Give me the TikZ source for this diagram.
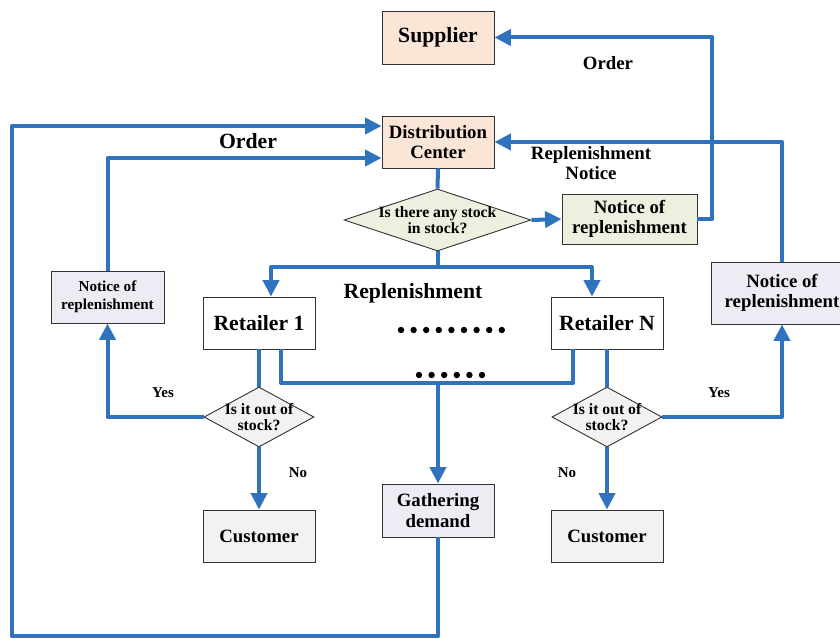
\documentclass[tikz,border=0pt]{standalone}
\usepackage{fontspec}
\setmainfont{Liberation Serif}
\usetikzlibrary{shapes.geometric,arrows.meta}
\definecolor{flowblue}{RGB}{47,114,190}
\definecolor{peach}{RGB}{251,229,214}
\definecolor{palegreen}{RGB}{235,241,222}
\definecolor{lav}{RGB}{237,235,243}
\definecolor{pgray}{RGB}{242,242,242}
\definecolor{edge}{RGB}{50,50,50}
\tikzset{
  box/.style={draw=edge,line width=0.9pt,rectangle,inner sep=0pt,align=center,font=\bfseries},
  dia/.style={draw=edge,line width=0.9pt,diamond,inner sep=0pt},
  big/.style={font=\fontsize{21.7}{24}\selectfont\bfseries},
  mid/.style={font=\fontsize{18.8}{20.5}\selectfont\bfseries},
  sml/.style={font=\fontsize{15.7}{16.5}\selectfont\bfseries},
  lbl/.style={inner sep=0pt,align=center},
  conn/.style={draw=flowblue,line width=4pt,line join=round},
  flow/.style={conn,-{Triangle[length=16.5pt,width=16pt]}},
  dotmark/.style={fill=black,draw=none}
}
\begin{document}
\begin{tikzpicture}[x=1pt,y=-1pt]
\useasboundingbox (0,0) rectangle (840,639);
\clip (0,0) rectangle (840,639);
% nodes
\node[box,big,fill=peach,minimum width=112pt,minimum height=53pt] (sup) at (438,37.5) {Supplier};
\node[box,mid,fill=peach,minimum width=112pt,minimum height=52pt] (dc) at (438,142) {Distribution\\Center};
\node[dia,fill=palegreen,minimum width=187pt,minimum height=62pt] (d1) at (437.5,220) {};
\node[lbl,sml,font=\fontsize{15.7}{16}\selectfont\bfseries] at (d1.center) {Is there any stock\\in stock?};
\node[box,mid,fill=palegreen,minimum width=135pt,minimum height=50pt] (n1) at (629.5,219) {Notice of\\replenishment};
\node[box,big,fill=white,minimum width=112pt,minimum height=52pt] (r1) at (259,323) {Retailer 1};
\node[box,big,fill=white,minimum width=112pt,minimum height=52pt] (rN) at (607,323) {Retailer N};
\node[box,sml,fill=lav,minimum width=113pt,minimum height=52pt,font=\fontsize{15.2}{18}\selectfont\bfseries] (ln) at (107.5,297) {Notice of\\replenishment};
\node[box,mid,fill=lav,minimum width=142pt,minimum height=62pt] (rn) at (782,293) {Notice of\\replenishment};
\node[dia,fill=pgray,minimum width=110pt,minimum height=60pt] (dL) at (259,417) {};
\node[lbl,sml] at (dL.center) {Is it out of\\stock?};
\node[dia,fill=pgray,minimum width=110pt,minimum height=60pt] (dR) at (607,417) {};
\node[lbl,sml] at (dR.center) {Is it out of\\stock?};
\node[box,mid,fill=lav,minimum width=112pt,minimum height=53pt] (gd) at (438,510.5) {Gathering\\demand};
\node[box,mid,fill=pgray,minimum width=112pt,minimum height=52pt] (cL) at (259,536) {Customer};
\node[box,mid,fill=pgray,minimum width=112pt,minimum height=52pt] (cR) at (607,536) {Customer};
% labels
\node[lbl,mid] (lorder1) at (608,63) {Order};
\node[lbl,mid,font=\fontsize{18.8}{20}\selectfont\bfseries] (lrep) at (591,163) {Replenishment\\Notice};
\node[lbl,big] (lorder2) at (248,141) {Order};
\node[lbl,big] (lrepl) at (413,293) {Replenishment};
\node[lbl,font=\fontsize{15}{16}\selectfont\bfseries] (yes1) at (163,393) {Yes};
\node[lbl,font=\fontsize{15}{16}\selectfont\bfseries] (no1) at (298,473) {No};
\node[lbl,font=\fontsize{15}{16}\selectfont\bfseries] (yes2) at (719,393) {Yes};
\node[lbl,font=\fontsize{15}{16}\selectfont\bfseries] (no2) at (567,473) {No};
% dots
\foreach \i in {0,...,8} \fill[dotmark] (401+12.6*\i,330) circle (3.2pt);
\foreach \i in {0,...,5} \fill[dotmark] (419+12.6*\i,375) circle (3.2pt);
% connectors
\coordinate (hb) at (438,383);
\draw[flow] (n1.east) -- ++(15,0) |- (sup.east);
\draw[flow] (rn.north) |- (dc.east);
\draw[conn] (dc.south) -- (d1.north);
\draw[flow] (d1.east) -- (n1.west);
\draw[flow] (d1.south) -- ++(0,16) -| ([xshift=12pt]r1.north);
\draw[flow] (d1.south) -- ++(0,16) -| ([xshift=-15pt]rN.north);
\draw[conn] (r1.south) -- (dL.north);
\draw[conn] (rN.south) -- (dR.north);
\draw[conn] ([xshift=22pt]r1.south) |- (hb) -| ([xshift=-34pt]rN.south);
\draw[flow] (hb) -- (gd.north);
\draw[flow] (dL.south) -- (cL.north);
\draw[flow] (dR.south) -- (cR.north);
\draw[flow] (dL.west) -| (ln.south);
\draw[flow] (dR.east) -| (rn.south);
\draw[flow] (ln.north) |- ([yshift=-16pt]dc.west);
\draw[flow] (gd.south) |- (12,636) |- ([yshift=16pt]dc.west);
\end{tikzpicture}
\end{document}
